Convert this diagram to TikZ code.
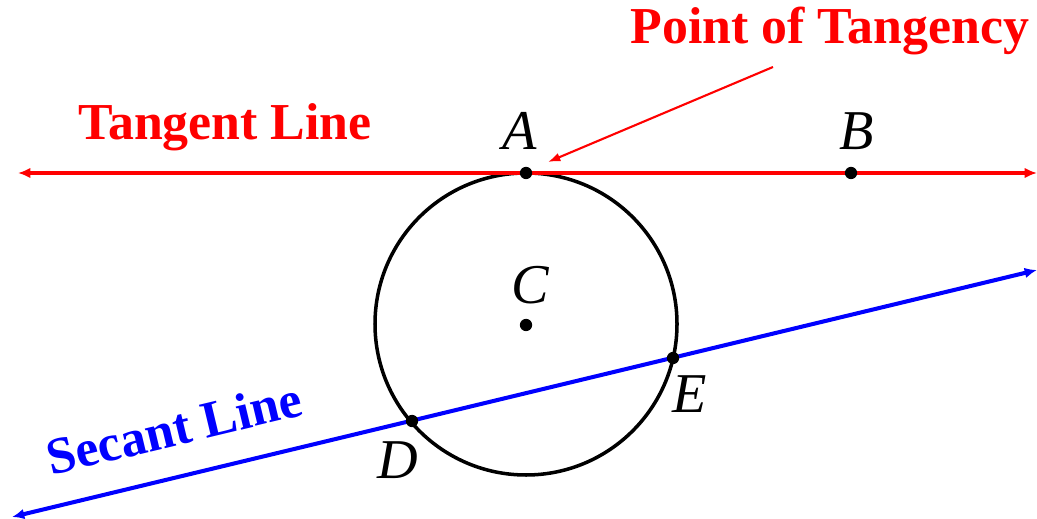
\documentclass[tikz,border=0pt]{standalone}
\usepackage{fontspec}
\setmainfont{Liberation Serif}
\usetikzlibrary{arrows.meta}
\begin{document}
\begin{tikzpicture}[
    x=0.02cm, y=-0.02cm,
    >={Latex[length=7pt,width=6pt]},
    tangent/.style={red, line width=2.3pt, <->},
    secant/.style={blue, line width=2.3pt, <->},
    pointer/.style={red, line width=1.2pt, -{Latex[length=7pt,width=5pt]}},
    circ/.style={black, line width=2pt},
    title/.style={font=\fontsize{29.5}{34}\selectfont\bfseries},
    ptlabel/.style={font=\fontsize{32}{38}\selectfont\itshape, inner sep=0pt},
    dot/.style={circle, fill=black, inner sep=0pt, minimum size=7pt}
    ]
    \useasboundingbox (0,0) rectangle (1037,519);

    % Circle
    \coordinate (c0) at (526,324);
    \draw [circ] (c0) circle (151);

    % Tangent line
    \coordinate (tl) at (18,173);
    \coordinate (tr) at (1037,173);
    \draw [tangent] (tl) -- (tr);

    % Secant line
    \coordinate (sl) at (12,517);
    \coordinate (sr) at (1037,270);
    \draw [secant] (sl) -- (sr);

    % Points
    \node[dot] (A) at (526,173) {};
    \node[dot] (B) at (851,173) {};
    \node[dot] (C) at (526,325) {};
    \node[dot] (D) at (412,421) {};
    \node[dot] (E) at (673,358) {};

    % Point labels
    \node[ptlabel] (la) at (520,131) {A};
    \node[ptlabel] (lb) at (857,131) {B};
    \node[ptlabel] (lc) at (530,285) {C};
    \node[ptlabel] (ld) at (398,460) {D};
    \node[ptlabel] (le) at (690,394) {E};

    % Titles
    \node[title, red] (tt) at (225,127) {Tangent Line};
    \node[title, red] (pt) at (830,31) {Point of Tangency};
    \node[title, blue, rotate=13.5] (st) at (174,428) {Secant Line};

    % Pointer to point of tangency
    \coordinate (p0) at (773,67);
    \coordinate (p1) at (548,162);
    \draw [pointer] (p0) -- (p1);

\end{tikzpicture}
\end{document}
